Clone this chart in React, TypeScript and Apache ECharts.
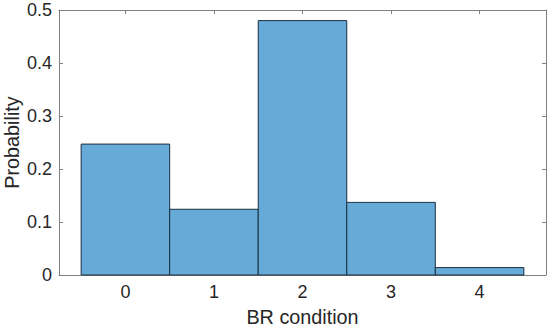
import React, { useEffect, useRef } from "react";
import * as echarts from "echarts";

const categories = [0, 1, 2, 3, 4];
const probabilities = [0.247, 0.124, 0.48, 0.137, 0.014];
const yTicks = [0, 0.1, 0.2, 0.3, 0.4, 0.5];

export default function App() {
  const ref = useRef<HTMLDivElement>(null);
  useEffect(() => {
    if (!ref.current) return;
    const chart = echarts.init(ref.current, null, { renderer: "svg" });
    const font = "'Liberation Sans', Arial, Helvetica, sans-serif";
    const axisColor = "#808080";
    const textColor = "#262626";
    const data = categories.map((c, i) => [c, probabilities[i]]);
    const axisLine = { show: true, onZero: false, lineStyle: { color: axisColor, width: 1 } };
    chart.setOption({
      animation: false,
      textStyle: { fontFamily: font },
      grid: { left: 59, top: 10, right: 4, bottom: 55, containLabel: false, outerBoundsMode: "none" },
      xAxis: [
        {
          type: "value",
          min: -0.75,
          max: 4.75,
          position: "bottom",
          name: "BR condition",
          nameLocation: "middle",
          nameGap: 32,
          nameMoveOverlap: false,
          nameTextStyle: { fontSize: 19.8, color: textColor, fontFamily: font },
          axisLine,
          axisTick: { show: true, inside: true, length: 4, lineStyle: { color: axisColor }, customValues: categories },
          axisLabel: {
            fontSize: 18,
            color: textColor,
            margin: 8,
            fontFamily: font,
            customValues: categories,
            formatter: (v: number) => String(v),
          },
          splitLine: { show: false },
        },
        {
          type: "value",
          min: -0.75,
          max: 4.75,
          position: "top",
          axisLine,
          axisTick: { show: true, inside: true, length: 4, lineStyle: { color: axisColor }, customValues: categories },
          axisLabel: { show: false },
          splitLine: { show: false },
        },
      ],
      yAxis: [
        {
          type: "value",
          min: 0,
          max: 0.5,
          interval: 0.1,
          position: "left",
          name: "Probability",
          nameLocation: "middle",
          nameGap: 37,
          nameMoveOverlap: false,
          nameTextStyle: { fontSize: 19.8, color: textColor, fontFamily: font, lineHeight: 20 },
          axisLine,
          axisTick: { show: true, inside: true, length: 4, lineStyle: { color: axisColor } },
          axisLabel: {
            fontSize: 18,
            color: textColor,
            margin: 7,
            fontFamily: font,
            customValues: yTicks,
            formatter: (v: number) => String(Math.round(v * 10) / 10),
          },
          splitLine: { show: false },
        },
        {
          type: "value",
          min: 0,
          max: 0.5,
          interval: 0.1,
          position: "right",
          axisLine,
          axisTick: { show: true, inside: true, length: 4, lineStyle: { color: axisColor } },
          axisLabel: { show: false },
          splitLine: { show: false },
        },
      ],
      series: [
        {
          type: "custom",
          xAxisIndex: 0,
          yAxisIndex: 0,
          data,
          renderItem: (params: any, api: any) => {
            const x = api.value(0);
            const y = api.value(1);
            const p0 = api.coord([x - 0.5, y]);
            const p1 = api.coord([x + 0.5, 0]);
            return {
              type: "rect",
              shape: { x: p0[0], y: p0[1], width: p1[0] - p0[0], height: p1[1] - p0[1] },
              style: { fill: "#66aad7", stroke: "#1c2f40", lineWidth: 1 },
            };
          },
        },
      ],
    });
    return () => chart.dispose();
  }, []);
  return <div ref={ref} style={{ width: 550, height: 330, position: "absolute", left: 0, top: 0 }} />;
}
